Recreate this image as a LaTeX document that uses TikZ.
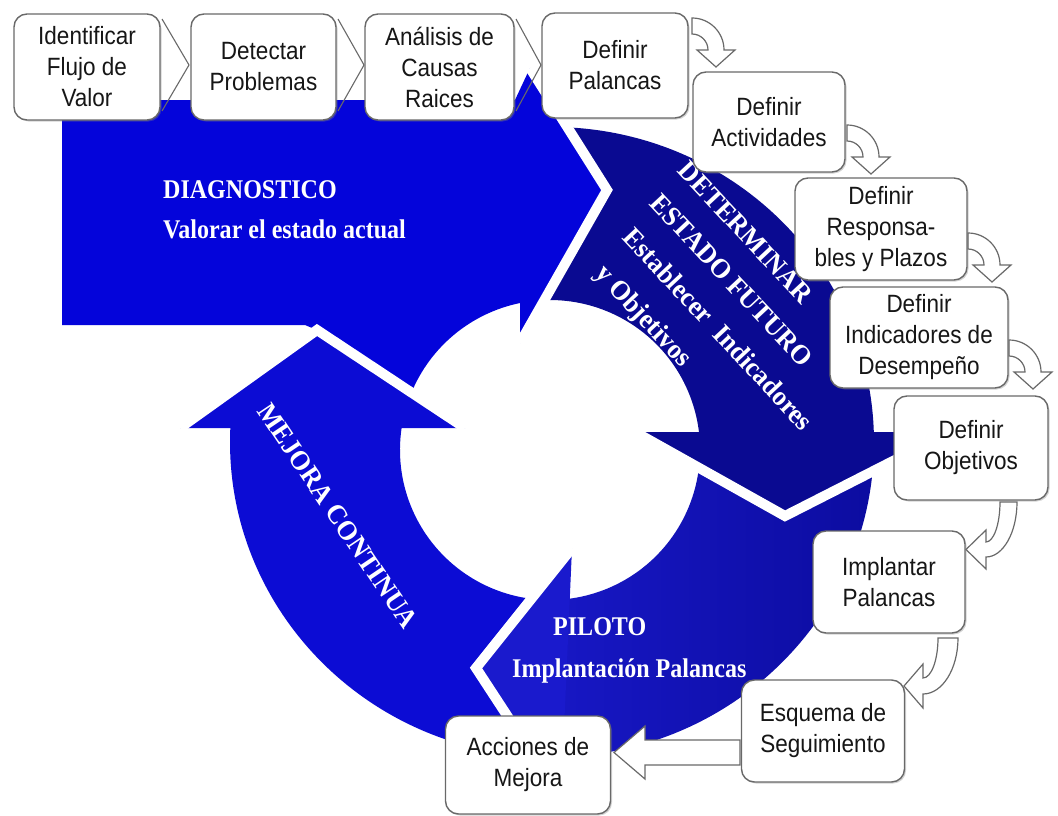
\documentclass[tikz,border=0pt]{standalone}
\usepackage{fontspec}
\newfontfamily\boxfont[FakeStretch=0.9]{Liberation Sans}
\newfontfamily\cycfont[FakeStretch=0.89]{Liberation Serif}
\newfontfamily\cycrfont[FakeStretch=0.96]{Liberation Serif}
\usetikzlibrary{shadows}
\definecolor{diagblue}{RGB}{4,4,218}
\definecolor{detblue}{RGB}{10,10,145}
\definecolor{pilbluel}{RGB}{26,26,205}
\definecolor{pilbluer}{RGB}{12,12,160}
\definecolor{mejblue}{RGB}{12,12,212}
\definecolor{boxline}{RGB}{105,105,105}
\definecolor{boxtext}{RGB}{22,22,22}
\begin{document}
\begin{tikzpicture}[x=1pt,y=-1pt,
  stepbox/.style={draw=boxline, line width=1.4pt, rounded corners=13pt, fill=white,
    align=center, inner sep=0pt, text=boxtext,
    font=\boxfont\fontsize{25}{31}\selectfont,
    drop shadow={shadow xshift=1.5pt, shadow yshift=-1.5pt, opacity=0.35}},
  gapline/.style={draw=white, line width=10pt, line join=miter},
  curvearrow/.style={draw=boxline, line width=1.2pt, fill=white, line join=miter},
  chev/.style={draw=boxline, line width=1.1pt},
  cyctext/.style={text=white, inner sep=0pt, font=\cycfont\bfseries\fontsize{27}{32}\selectfont},
  rottext/.style={text=white, inner sep=0pt, font=\cycrfont\bfseries\fontsize{27.5}{32}\selectfont},
]
\useasboundingbox (0,0) rectangle (1058,816);
\fill[white] (0,0) rectangle (1058,816);

\begin{scope}[shift={(550,450)}]
 % DIAGNOSTICO
 \fill[diagblue] (-488,-350) -- (-35,-350) -- (-20,-382) -- (57,-260) -- (-30,-107)
   -- (-30,-146.97) arc[start angle=258.46, end angle=202.5, radius=150]
   -- (-233,-120) -- (-245,-125) -- (-488,-125) -- cycle;
 % DETERMINAR
 \fill[detblue] ([shift={(2,-8)}]-87:322 and 315) arc[start angle=-87, end angle=5.5, x radius=322, y radius=315]
   -- (235,66) -- (149,17.8) arc[start angle=6.81, end angle=-92.1, radius=150]
   -- (57,-260) -- cycle;
 \fill[detblue] (85,-18) -- (235,66) -- (400,-18) -- cycle;
 % PILOTO
 \shade[left color=pilbluel, right color=pilbluer] ([shift={(2,-8)}]5.5:322 and 315) arc[start angle=5.5, end angle=93.3, x radius=322, y radius=315]
   -- (-74,218) -- (-18.7,148.8) arc[start angle=97.16, end angle=6.81, radius=150]
   -- (235,66) -- cycle;
 \fill[pilbluel] (22,98) -- (-74,218) -- (11,348) -- cycle;
 % MEJORA
 \fill[mejblue] ([shift={(2,-8)}]93.3:322 and 315) arc[start angle=93.3, end angle=182.55, x radius=322, y radius=315]
   -- (-148.4,-22) arc[start angle=188.43, end angle=97.16, radius=150]
   -- (-74,218) -- cycle;
 \fill[mejblue] (-370,-22) -- (-233,-120) -- (-85,-22) -- cycle;
 % white gaps between the four arrows
 \draw[gapline] (-20,-382) -- (57,-260) -- (-30,-107);
 \draw[gapline] (85,-18) -- (235,66) -- (400,-18);
 \draw[gapline] (22,98) -- (-74,218) -- (11,348);
 \draw[gapline] (-370,-22) -- (-233,-120) -- (-85,-22);
\end{scope}

% texts in the cycle
\node[cyctext, anchor=base west] (tdiag) at (163,198) {DIAGNOSTICO};
\node[cyctext, anchor=base west] (tdiagb) at (163,238) {Valorar el estado actual};
\node[cyctext, anchor=base west] (tpil) at (553,635) {PILOTO};
\node[cyctext, anchor=base west] (tpilb) at (512,677) {Implantación Palancas};
\node[rottext, rotate=-47, anchor=west] (tdeta) at (683,165) {DETERMINAR};
\node[rottext, rotate=-47, anchor=west] (tdetb) at (655,198) {ESTADO FUTURO};
\node[rottext, rotate=-47, anchor=west] (tdetc) at (628,232) {Establecer\ \ Indicadores};
\node[rottext, rotate=-47, anchor=west] (tdetd) at (599,270) {y Objetivos};
\node[rottext, rotate=-56] (tmej) at (338,516) {MEJORA CONTINUA};

% chevrons between top boxes
\draw[chev] (162,19) -- (189,65) -- (162,111);
\draw[chev] (338,19) -- (364,65) -- (338,111);
\draw[chev] (516,19) -- (541,65) -- (516,111);

% curved arrows
\draw[curvearrow] (692,18) arc[start angle=-90, end angle=0, radius=32] -- (735,50) -- (716,67) -- (697,50) -- (708,50) arc[start angle=0, end angle=-90, radius=16] -- cycle;
\draw[curvearrow] (847,125) arc[start angle=-90, end angle=0, radius=32] -- (890,157) -- (871,174) -- (852,157) -- (863,157) arc[start angle=0, end angle=-90, radius=16] -- cycle;
\draw[curvearrow] (968,233) arc[start angle=-90, end angle=0, radius=32] -- (1011,265) -- (992,282) -- (973,265) -- (984,265) arc[start angle=0, end angle=-90, radius=16] -- cycle;
\draw[curvearrow] (1009,340) arc[start angle=-90, end angle=0, radius=32] -- (1052,372) -- (1033,389) -- (1014,372) -- (1025,372) arc[start angle=0, end angle=-90, radius=16] -- cycle;
\draw[curvearrow] (1017,502) arc[start angle=0, end angle=90, x radius=31, y radius=55] -- (986,569) -- (966,549.5) -- (986,530) -- (986,542) arc[start angle=90, end angle=0, x radius=14, y radius=40] -- cycle;
\draw[curvearrow] (958,638) arc[start angle=0, end angle=90, x radius=35, y radius=56] -- (923,708) -- (904,686) -- (923,664) -- (923,678) arc[start angle=90, end angle=0, x radius=15, y radius=40] -- cycle;
\draw[curvearrow] (740,740) -- (645,740) -- (645,726) -- (614,752.5) -- (645,779) -- (645,765) -- (740,765) -- cycle;

% boxes
\node[stepbox, minimum width=146pt, minimum height=106pt] (b1) at (87,67) {Identificar\\Flujo de\\Valor};
\node[stepbox, minimum width=145pt, minimum height=106pt] (b2) at (263.5,67) {Detectar\\Problemas};
\node[stepbox, minimum width=149pt, minimum height=106pt] (b3) at (439.5,67) {Análisis de\\Causas\\Raices};
\node[stepbox, minimum width=146pt, minimum height=105pt] (b4) at (615,65.5) {Definir\\Palancas};
\node[stepbox, minimum width=152pt, minimum height=100pt] (b5) at (769,122) {Definir\\Actividades};
\node[stepbox, minimum width=172pt, minimum height=102pt] (b6) at (881,229) {Definir\\Responsa-\\bles y Plazos};
\node[stepbox, minimum width=178pt, minimum height=101pt] (b7) at (919,337.5) {Definir\\Indicadores de\\Desempeño};
\node[stepbox, minimum width=154pt, minimum height=104pt] (b8) at (971,448) {Definir\\Objetivos};
\node[stepbox, minimum width=152pt, minimum height=102pt] (b9) at (889,582) {Implantar\\Palancas};
\node[stepbox, minimum width=163pt, minimum height=102pt] (b10) at (823,731) {Esquema de\\Seguimiento};
\node[stepbox, minimum width=165pt, minimum height=98pt] (b11) at (528,765) {Acciones de\\Mejora};
\end{tikzpicture}
\end{document}
